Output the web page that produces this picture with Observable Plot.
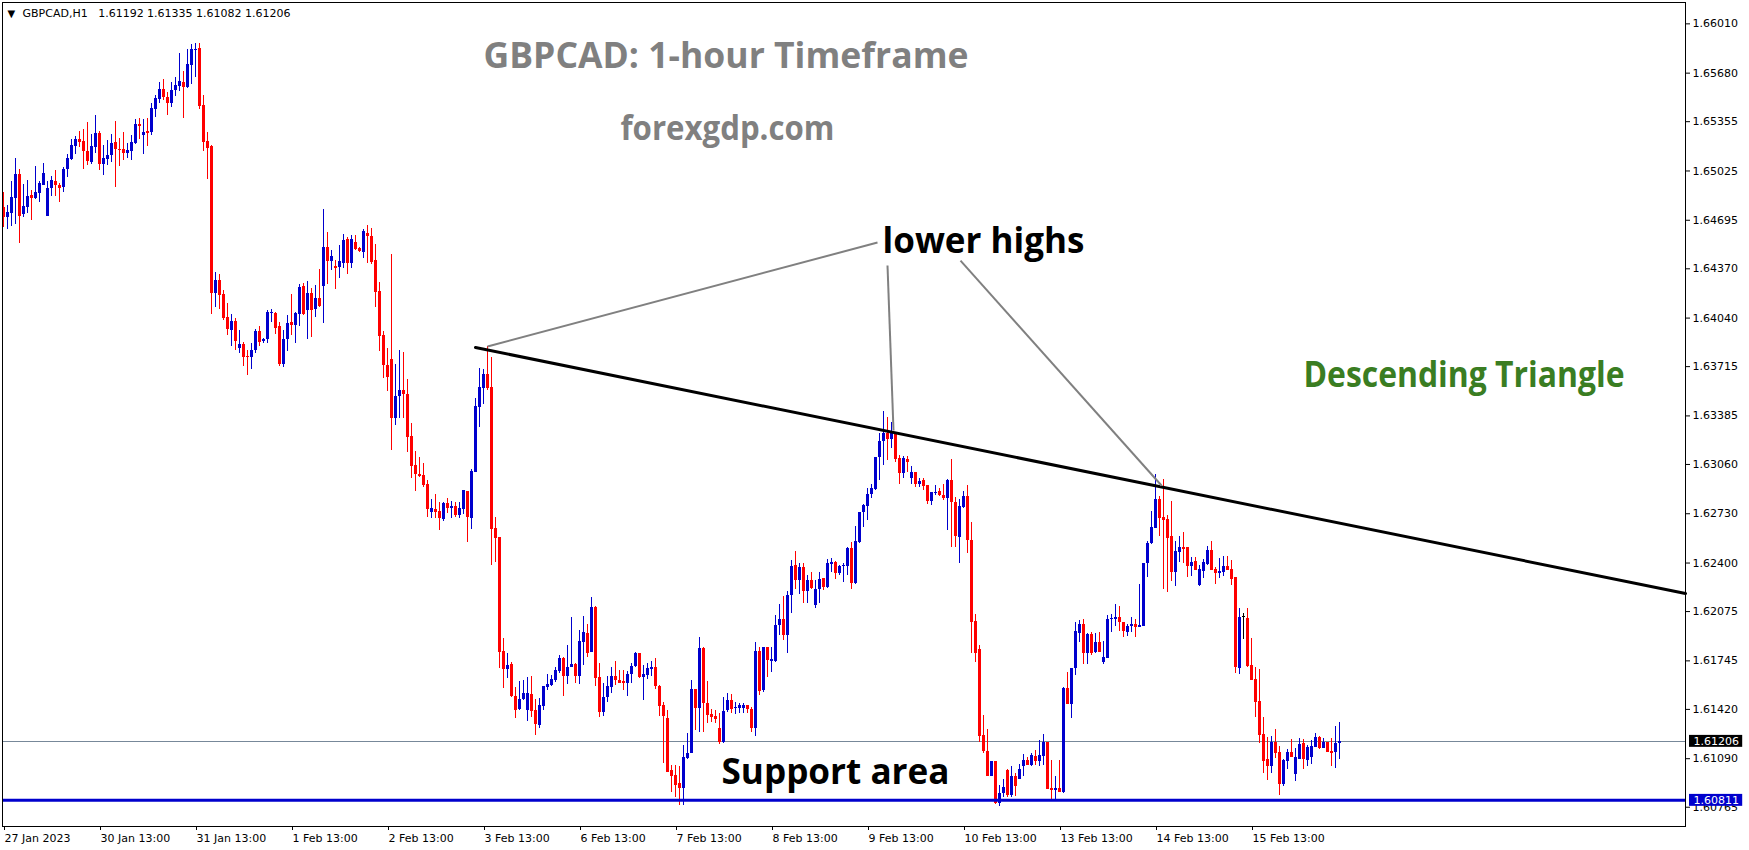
<!DOCTYPE html>
<html>
<head>
<meta charset="utf-8">
<script src="https://cdn.jsdelivr.net/npm/d3@7"></script>
<script src="https://cdn.jsdelivr.net/npm/@observablehq/plot@0.6"></script>
<style>
html, body { margin: 0; padding: 0; background: #ffffff; overflow: hidden; }
#chart svg { display: block; }
</style>
</head>
<body>
<div id="chart"></div>
<script>
// ---- Data: GBPCAD H1 candles (bar index 0 = 27 Jan 2023 13:00) ----
const open = [
1.64783,1.64716,1.64743,1.64843,1.65002,1.64732,1.64781,1.64861,1.64843,1.64877,
1.64930,1.64721,1.64910,1.64955,1.64930,1.64915,1.65035,1.65104,1.65189,1.65236,
1.65222,1.65155,1.65082,1.65182,1.65276,1.65069,1.65102,1.65129,1.65216,1.65169,
1.65169,1.65142,1.65155,1.65209,1.65336,1.65262,1.65289,1.65283,1.65436,1.65503,
1.65570,1.65517,1.65477,1.65564,1.65590,1.65617,1.65584,1.65731,1.65831,1.65845,
1.65463,1.65222,1.65189,1.64207,1.64294,1.64198,1.64044,1.63957,1.64017,1.63836,
1.63863,1.63785,1.63778,1.63823,1.63950,1.63885,1.63899,1.64073,1.64070,1.63983,
1.63729,1.63899,1.64010,1.63990,1.64064,1.64251,1.64091,1.64204,1.64097,1.64171,
1.64251,1.64512,1.64419,1.64385,1.64378,1.64405,1.64566,1.64405,1.64546,1.64506,
1.64479,1.64606,1.64586,1.64425,1.64218,1.63923,1.63722,1.63762,1.63367,1.63515,
1.63555,1.63528,1.63247,1.63053,1.62992,1.62986,1.62925,1.62738,1.62758,1.62745,
1.62692,1.62799,1.62767,1.62779,1.62718,1.62758,1.62879,1.62698,1.63006,1.63441,
1.63569,1.63662,1.63575,1.62631,1.62571,1.61808,1.61687,1.61721,1.61506,1.61419,
1.61486,1.61413,1.61520,1.61413,1.61312,1.61439,1.61567,1.61580,1.61613,1.61674,
1.61761,1.61640,1.61700,1.61721,1.61640,1.61868,1.61928,1.61801,1.62102,1.61634,
1.61399,1.61500,1.61567,1.61640,1.61613,1.61607,1.61593,1.61654,1.61707,1.61794,
1.61634,1.61647,1.61687,1.61700,1.61573,1.61446,1.61360,1.61011,1.60977,1.60924,
1.60890,1.61091,1.61125,1.61553,1.61426,1.61830,1.61457,1.61385,1.61372,1.61290,
1.61200,1.61412,1.61479,1.61423,1.61428,1.61428,1.61446,1.61419,1.61294,1.61811,
1.61546,1.61834,1.61740,1.61740,1.61981,1.62022,1.61914,1.62182,1.62383,1.62283,
1.62372,1.62209,1.62283,1.62115,1.62222,1.62296,1.62236,1.62390,1.62403,1.62330,
1.62377,1.62377,1.62497,1.62263,1.62537,1.62738,1.62780,1.62859,1.62892,1.63109,
1.63214,1.63267,1.63227,1.63267,1.63100,1.62999,1.63093,1.62966,1.63006,1.62926,
1.62952,1.62919,1.62812,1.62863,1.62879,1.62852,1.62830,1.62952,1.62803,1.62573,
1.62769,1.62845,1.62551,1.62008,1.61818,1.61245,1.61138,1.60972,1.61071,1.60787,
1.60854,1.61010,1.60843,1.60970,1.60950,1.61039,1.61077,1.61044,1.61104,1.61071,
1.61104,1.61200,1.60892,1.60877,1.60892,1.60865,1.61562,1.61452,1.61691,1.61930,
1.61988,1.61792,1.61919,1.61798,1.61865,1.61731,1.61763,1.62021,1.62021,1.62037,
1.61999,1.61937,1.61977,1.61988,1.61970,1.61975,1.62394,1.62528,1.62633,1.62825,
1.62707,1.62691,1.62577,1.62338,1.62472,1.62504,1.62504,1.62378,1.62410,1.62249,
1.62343,1.62390,1.62483,1.62356,1.62329,1.62338,1.62374,1.62356,1.62303,1.61695,
1.62035,1.62028,1.61713,1.61620,1.61472,1.61249,1.61084,1.61039,1.61200,1.61129,
1.60916,1.61071,1.61129,1.60983,1.61084,1.61189,1.61077,1.61100,1.61166,1.61229,
1.61160,1.61196,1.61138,1.61129,1.61192
];
const high = [
1.64879,1.64794,1.64955,1.65109,1.65035,1.64935,1.64962,1.64895,1.65055,1.64957,
1.65075,1.64955,1.64988,1.65029,1.64939,1.65051,1.65135,1.65236,1.65256,1.65289,
1.65303,1.65350,1.65269,1.65396,1.65289,1.65196,1.65229,1.65269,1.65356,1.65242,
1.65283,1.65209,1.65262,1.65370,1.65376,1.65370,1.65376,1.65477,1.65530,1.65617,
1.65637,1.65550,1.65617,1.65651,1.65811,1.65691,1.65838,1.65871,1.65878,1.65878,
1.65530,1.65283,1.65196,1.64345,1.64334,1.64225,1.64137,1.64062,1.64037,1.63957,
1.63876,1.63823,1.63870,1.63963,1.63983,1.63903,1.64091,1.64097,1.64077,1.64010,
1.63957,1.64057,1.64198,1.64077,1.64265,1.64271,1.64285,1.64238,1.64258,1.64365,
1.64767,1.64613,1.64492,1.64425,1.64526,1.64599,1.64579,1.64593,1.64593,1.64512,
1.64633,1.64660,1.64640,1.64532,1.64278,1.63950,1.63836,1.64466,1.63729,1.63823,
1.63809,1.63628,1.63334,1.63146,1.63106,1.63066,1.62952,1.62825,1.62858,1.62805,
1.62805,1.62832,1.62812,1.62805,1.62805,1.62886,1.62879,1.63026,1.63502,1.63703,
1.63696,1.63850,1.63776,1.62705,1.62571,1.61895,1.61794,1.61734,1.61567,1.61607,
1.61613,1.61634,1.61640,1.61486,1.61493,1.61573,1.61654,1.61647,1.61700,1.61781,
1.61767,1.61848,1.62035,1.61727,1.61948,1.62042,1.61988,1.62169,1.62109,1.61727,
1.61593,1.61640,1.61700,1.61741,1.61680,1.61680,1.61674,1.61727,1.61801,1.61794,
1.61714,1.61727,1.61741,1.61761,1.61580,1.61466,1.61413,1.61044,1.61044,1.61038,
1.61178,1.61259,1.61613,1.61553,1.61901,1.61834,1.61606,1.61417,1.61412,1.61394,
1.61499,1.61526,1.61519,1.61466,1.61457,1.61457,1.61446,1.61430,1.61868,1.61834,
1.61834,1.61834,1.61834,1.62049,1.62122,1.62176,1.62209,1.62417,1.62477,1.62394,
1.62394,1.62316,1.62336,1.62283,1.62336,1.62296,1.62423,1.62430,1.62410,1.62383,
1.62397,1.62504,1.62537,1.62647,1.62738,1.62792,1.62899,1.62926,1.63109,1.63269,
1.63414,1.63374,1.63341,1.63267,1.63120,1.63115,1.63115,1.63046,1.63006,1.62966,
1.62966,1.62919,1.62872,1.62919,1.62901,1.62926,1.62959,1.63093,1.62841,1.62825,
1.62879,1.62919,1.62671,1.62055,1.61847,1.61379,1.61283,1.61071,1.61071,1.60910,
1.60950,1.61017,1.61039,1.60990,1.61051,1.61118,1.61100,1.61122,1.61144,1.61211,
1.61251,1.61200,1.61077,1.60970,1.61077,1.61568,1.61664,1.61691,1.62004,1.62015,
1.62019,1.61926,1.61932,1.61926,1.61932,1.61874,1.62048,1.62055,1.62122,1.62109,
1.62001,1.61986,1.62033,1.62019,1.62256,1.62399,1.62544,1.62747,1.62992,1.62845,
1.62957,1.62718,1.62812,1.62542,1.62575,1.62602,1.62504,1.62439,1.62437,1.62381,
1.62423,1.62510,1.62546,1.62367,1.62430,1.62443,1.62441,1.62416,1.62305,1.62095,
1.62059,1.62095,1.61896,1.61698,1.61687,1.61367,1.61233,1.61238,1.61285,1.61173,
1.61084,1.61151,1.61216,1.61155,1.61227,1.61218,1.61178,1.61211,1.61262,1.61240,
1.61222,1.61200,1.61222,1.61305,1.61335
];
const low = [
1.64649,1.64634,1.64654,1.64667,1.64542,1.64714,1.64743,1.64694,1.64834,1.64814,
1.64928,1.64721,1.64857,1.64857,1.64814,1.64881,1.64984,1.65095,1.65135,1.65180,
1.65035,1.65062,1.65069,1.65140,1.65029,1.64995,1.65062,1.65082,1.64917,1.65055,
1.65095,1.65111,1.65095,1.65202,1.65236,1.65135,1.65189,1.65262,1.65383,1.65477,
1.65497,1.65396,1.65450,1.65523,1.65557,1.65376,1.65577,1.65604,1.65651,1.65436,
1.65156,1.64968,1.64066,1.64111,1.64097,1.64024,1.63925,1.63852,1.63823,1.63805,
1.63718,1.63655,1.63698,1.63805,1.63849,1.63870,1.63872,1.64012,1.63930,1.63718,
1.63711,1.63818,1.63925,1.63872,1.63983,1.64059,1.63899,1.63912,1.64044,1.64113,
1.64003,1.64265,1.64358,1.64231,1.64305,1.64372,1.64332,1.64372,1.64492,1.64479,
1.64439,1.64405,1.64399,1.64111,1.63816,1.63635,1.63548,1.63153,1.63320,1.63367,
1.63367,1.63140,1.62968,1.62879,1.62972,1.62905,1.62704,1.62698,1.62698,1.62617,
1.62678,1.62732,1.62698,1.62705,1.62698,1.62725,1.62537,1.62625,1.63006,1.63308,
1.63462,1.63555,1.62383,1.62404,1.61694,1.61560,1.61627,1.61500,1.61359,1.61413,
1.61480,1.61339,1.61366,1.61245,1.61292,1.61413,1.61547,1.61573,1.61600,1.61660,
1.61506,1.61587,1.61700,1.61593,1.61587,1.61714,1.61767,1.61801,1.61573,1.61366,
1.61372,1.61466,1.61526,1.61580,1.61593,1.61547,1.61506,1.61593,1.61700,1.61627,
1.61480,1.61620,1.61640,1.61553,1.61372,1.61058,1.60997,1.60863,1.60830,1.60776,
1.60776,1.61084,1.61125,1.61279,1.61267,1.61267,1.61323,1.61334,1.61323,1.61182,
1.61194,1.61397,1.61390,1.61383,1.61390,1.61394,1.61390,1.61267,1.61240,1.61513,
1.61533,1.61636,1.61669,1.61736,1.61914,1.61881,1.61792,1.62060,1.62222,1.62189,
1.62127,1.62127,1.62222,1.62093,1.62127,1.62218,1.62229,1.62336,1.62289,1.62316,
1.62272,1.62316,1.62222,1.62256,1.62528,1.62640,1.62685,1.62830,1.62885,1.62950,
1.63053,1.63086,1.63167,1.63071,1.62926,1.62966,1.63006,1.62926,1.62905,1.62908,
1.62885,1.62792,1.62783,1.62850,1.62845,1.62818,1.62618,1.62506,1.62506,1.62399,
1.62763,1.62461,1.61792,1.61736,1.61200,1.61122,1.60972,1.60972,1.60780,1.60769,
1.60832,1.60832,1.60832,1.60839,1.60950,1.60972,1.61044,1.61039,1.61044,1.61039,
1.61044,1.60883,1.60816,1.60816,1.60865,1.60859,1.61452,1.61356,1.61647,1.61870,
1.61718,1.61718,1.61780,1.61792,1.61798,1.61718,1.61763,1.61937,1.61977,1.61943,
1.61899,1.61910,1.61937,1.61903,1.61970,1.61975,1.62301,1.62521,1.62633,1.62579,
1.62222,1.62200,1.62278,1.62245,1.62405,1.62394,1.62305,1.62311,1.62352,1.62245,
1.62298,1.62383,1.62347,1.62258,1.62294,1.62311,1.62347,1.62249,1.61658,1.61653,
1.61887,1.61702,1.61613,1.61367,1.61193,1.60992,1.60943,1.60992,1.61088,1.60845,
1.60905,1.61017,1.61100,1.60939,1.61084,1.61019,1.61039,1.61050,1.61166,1.61151,
1.61155,1.61129,1.61039,1.61026,1.61082
];
const close = [
1.64716,1.64747,1.64848,1.65002,1.64723,1.64788,1.64854,1.64843,1.64879,1.64941,
1.65008,1.64908,1.64962,1.64926,1.64910,1.65035,1.65109,1.65196,1.65236,1.65218,
1.65155,1.65089,1.65189,1.65276,1.65069,1.65109,1.65129,1.65209,1.65169,1.65164,
1.65142,1.65162,1.65216,1.65336,1.65323,1.65283,1.65276,1.65443,1.65510,1.65570,
1.65517,1.65477,1.65564,1.65597,1.65624,1.65584,1.65738,1.65838,1.65838,1.65457,
1.65216,1.65178,1.64207,1.64294,1.64191,1.64039,1.63963,1.64017,1.63885,1.63863,
1.63778,1.63778,1.63823,1.63950,1.63876,1.63896,1.64077,1.64077,1.63970,1.63729,
1.63899,1.64003,1.63990,1.64070,1.64245,1.64064,1.64204,1.64091,1.64171,1.64117,
1.64512,1.64419,1.64452,1.64372,1.64419,1.64559,1.64405,1.64566,1.64499,1.64486,
1.64620,1.64586,1.64412,1.64211,1.63916,1.63724,1.63642,1.63367,1.63515,1.63555,
1.63528,1.63240,1.63046,1.62992,1.62979,1.62919,1.62758,1.62765,1.62738,1.62698,
1.62799,1.62767,1.62779,1.62718,1.62765,1.62886,1.62705,1.63013,1.63448,1.63575,
1.63662,1.63569,1.62625,1.62564,1.61801,1.61687,1.61714,1.61506,1.61413,1.61486,
1.61526,1.61526,1.61406,1.61319,1.61446,1.61573,1.61587,1.61620,1.61680,1.61761,
1.61640,1.61700,1.61721,1.61640,1.61875,1.61935,1.61794,1.62102,1.61627,1.61399,
1.61500,1.61573,1.61640,1.61613,1.61593,1.61593,1.61654,1.61707,1.61794,1.61634,
1.61654,1.61694,1.61700,1.61573,1.61439,1.61372,1.60997,1.60971,1.60910,1.60890,
1.61098,1.61125,1.61553,1.61426,1.61830,1.61457,1.61379,1.61368,1.61352,1.61200,
1.61406,1.61479,1.61419,1.61435,1.61446,1.61446,1.61419,1.61294,1.61811,1.61540,
1.61834,1.61747,1.61754,1.61981,1.62022,1.61914,1.62182,1.62377,1.62283,1.62372,
1.62209,1.62283,1.62229,1.62222,1.62289,1.62236,1.62397,1.62403,1.62330,1.62377,
1.62383,1.62497,1.62263,1.62544,1.62738,1.62785,1.62859,1.62899,1.63109,1.63214,
1.63267,1.63227,1.63267,1.63093,1.62999,1.63100,1.63075,1.63006,1.62926,1.62946,
1.62914,1.62812,1.62872,1.62872,1.62852,1.62830,1.62952,1.62803,1.62579,1.62776,
1.62845,1.62551,1.62004,1.61792,1.61240,1.61138,1.60972,1.61071,1.60787,1.60859,
1.60897,1.60843,1.60970,1.60905,1.61017,1.61077,1.61044,1.61111,1.61071,1.61111,
1.61200,1.60883,1.60877,1.60892,1.60865,1.61562,1.61452,1.61691,1.61941,1.61988,
1.61792,1.61919,1.61792,1.61865,1.61803,1.61767,1.62019,1.62028,1.62037,1.61999,
1.61941,1.61977,1.61988,1.61970,1.61981,1.62399,1.62533,1.62640,1.62825,1.62700,
1.62684,1.62566,1.62338,1.62475,1.62504,1.62490,1.62379,1.62405,1.62352,1.62356,
1.62401,1.62483,1.62352,1.62329,1.62343,1.62374,1.62352,1.62291,1.61702,1.62035,
1.62035,1.61707,1.61613,1.61468,1.61245,1.61071,1.61039,1.61200,1.61126,1.60916,
1.61077,1.61129,1.61100,1.61100,1.61182,1.61082,1.61166,1.61173,1.61229,1.61160,
1.61196,1.61133,1.61126,1.61189,1.61206
];

// Axis ticks
const xTickIndex = [0, 24, 48, 72, 96, 120, 144, 168, 192, 216, 240, 264, 288, 312];
const xTickLabels = ["27 Jan 2023", "30 Jan 13:00", "31 Jan 13:00", "1 Feb 13:00", "2 Feb 13:00",
  "3 Feb 13:00", "6 Feb 13:00", "7 Feb 13:00", "8 Feb 13:00", "9 Feb 13:00",
  "10 Feb 13:00", "13 Feb 13:00", "14 Feb 13:00", "15 Feb 13:00"];
const yTicks = [1.66010, 1.65680, 1.65355, 1.65025, 1.64695, 1.64370, 1.64040, 1.63715,
  1.63385, 1.63060, 1.62730, 1.62400, 1.62075, 1.61745, 1.61420, 1.61090, 1.60765];

// Levels and drawn objects (bar index / price)
const bidPrice = 1.61206;
const supportPrice = 1.60811;
const trendX = [118, 420.5];
const trendY = [1.63843, 1.62196];
const pointerX1 = [121, 221, 239.25];
const pointerY1 = [1.63850, 1.64392, 1.64425];
const pointerX2 = [218.5, 222.5, 289.5];
const pointerY2 = [1.64546, 1.63287, 1.62919];

// Text labels
const headerText = "GBPCAD,H1\u00a0\u00a0\u00a01.61192 1.61335 1.61082 1.61206";
const notes = [
  {text: "GBPCAD: 1-hour Timeframe", x: 120, y: 1.65794, color: "#808080", size: 36, width: 485},
  {text: "forexgdp.com", x: 154.25, y: 1.65308, color: "#808080", size: 34, width: 214},
  {text: "lower highs", x: 219.75, y: 1.64556, color: "#000000", size: 36, width: 202},
  {text: "Descending Triangle", x: 325, y: 1.63659, color: "#3a7d22", size: 36, width: 321},
  {text: "Support area", x: 179.5, y: 1.61001, color: "#000000", size: 36, width: 228}
];

// ---- Build ----
const idx = d3.range(open.length);
const upIdx = idx.filter(i => close[i] > open[i]);
const downIdx = idx.filter(i => close[i] < open[i]);
const flatIdx = idx.filter(i => close[i] === open[i]);
const UP = "#0000cd", DOWN = "#ff0000", FLAT = "#000000";
const onePx = 0.00007;

function wicks(ix, color) {
  return Plot.ruleX(ix, {x: i => i, y1: i => low[i], y2: i => high[i], stroke: color, strokeWidth: 1, shapeRendering: "crispEdges"});
}
function bodies(ix, color) {
  return Plot.ruleX(ix, {
    x: i => i,
    y1: i => Math.min(open[i], close[i]),
    y2: i => Math.max(Math.max(open[i], close[i]), Math.min(open[i], close[i]) + onePx),
    stroke: color, strokeWidth: 3, shapeRendering: "crispEdges"
  });
}

const boxHalf = 0.00040;
const priceBoxes = [
  {price: bidPrice, fill: "#000000", label: "1.61206"},
  {price: supportPrice, fill: "#0000cd", label: "1.60811"}
];

const chart = Plot.plot({
  width: 1749,
  height: 850,
  marginLeft: 2,
  marginRight: 64,
  marginTop: 2,
  marginBottom: 24,
  style: {fontFamily: "DejaVu Sans", fontSize: "11px", background: "#ffffff", color: "#000000"},
  x: {type: "linear", domain: [-0.25, 420.5]},
  y: {type: "linear", domain: [1.60636, 1.66153]},
  marks: [
    Plot.ruleY([bidPrice], {stroke: "#778899", strokeWidth: 1, shapeRendering: "crispEdges"}),
    wicks(upIdx, UP), wicks(downIdx, DOWN), wicks(flatIdx, FLAT),
    bodies(upIdx, UP), bodies(downIdx, DOWN), bodies(flatIdx, FLAT),
    Plot.ruleY([supportPrice], {stroke: "#0000cd", strokeWidth: 3}),
    Plot.line(trendX.map((x, k) => ({x, y: trendY[k]})), {x: "x", y: "y", stroke: "#000000", strokeWidth: 3}),
    Plot.link(pointerX1.map((x, k) => k), {
      x1: k => pointerX1[k], y1: k => pointerY1[k], x2: k => pointerX2[k], y2: k => pointerY2[k],
      stroke: "#808080", strokeWidth: 2
    }),
    Plot.text(notes, {x: "x", y: "y", text: "text", fill: "color", fontSize: d => d.size,
      fontFamily: "Open Sans", fontWeight: "bold", textAnchor: "start", lineAnchor: "middle"}),
    Plot.frame({stroke: "#000000", strokeWidth: 1}),
    Plot.axisY({ticks: yTicks, anchor: "right", tickFormat: d3.format(".5f"), tickSize: 4, tickPadding: 3, label: null, fontSize: 11, stroke: "#000000"}),
    Plot.axisX({ticks: xTickIndex, anchor: "bottom", tickFormat: d => xTickLabels[xTickIndex.indexOf(d)], tickSize: 4, tickPadding: 4, label: null, fontSize: 11, textAnchor: "start", dx: 1, stroke: "#000000"}),
    Plot.rect(priceBoxes, {x1: 421.5, x2: 434.8, y1: d => d.price - boxHalf, y2: d => d.price + boxHalf, fill: "fill"}),
    Plot.text(priceBoxes, {x: 422.5, y: "price", text: "label", fill: "#ffffff", textAnchor: "start", fontSize: 11}),
    Plot.text(["\u25BC"], {frameAnchor: "top-left", dx: 5, dy: 7, fontSize: 10, fill: "#000000"}),
    Plot.text([headerText], {frameAnchor: "top-left", dx: 20, dy: 7, fontSize: 11, fill: "#000000"})
  ]
});

document.getElementById("chart").appendChild(chart);

// fit annotation text widths
const widthByText = new Map(notes.map(n => [n.text, n.width]));
d3.select(chart).selectAll("text").each(function () {
  const w = widthByText.get(this.textContent);
  if (w) {
    this.setAttribute("textLength", w);
    this.setAttribute("lengthAdjust", "spacingAndGlyphs");
  }
});
</script>
</body>
</html>
